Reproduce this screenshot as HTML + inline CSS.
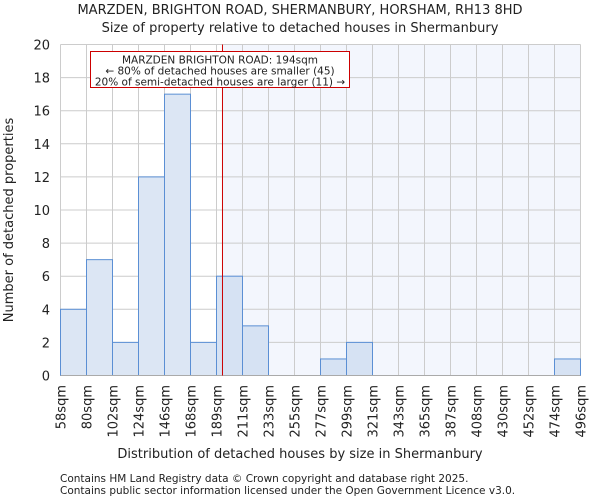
<!DOCTYPE html>
<html><head><meta charset="utf-8"><style>
body{margin:0;background:#fff;font-family:"DejaVu Sans","Liberation Sans",sans-serif}
svg text{font-family:"DejaVu Sans","Liberation Sans",sans-serif;fill:#222}
</style></head><body>
<svg id="c" width="600" height="500" xmlns="http://www.w3.org/2000/svg"></svg>
<script>
const binLabels=["58sqm","80sqm","102sqm","124sqm","146sqm","168sqm","189sqm","211sqm","233sqm","255sqm","277sqm","299sqm","321sqm","343sqm","365sqm","387sqm","408sqm","430sqm","452sqm","474sqm","496sqm"];
const counts=[4,7,2,12,17,2,6,3,0,0,1,2,0,0,0,0,0,0,0,1];
const yTicks=[0,2,4,6,8,10,12,14,16,18,20];
const markerIndex=6.23;
const svg=document.getElementById('c');
const NS="http://www.w3.org/2000/svg";
const L=60.5,R=580.5,T=44.5,B=375.5,yMax=20;
const nb=counts.length;
const x=i=>L+(R-L)*i/nb;
const y=v=>B-(B-T)*v/yMax;
function el(t,a,txt){const e=document.createElementNS(NS,t);for(const k in a)e.setAttribute(k,a[k]);if(txt!=null)e.textContent=txt;svg.appendChild(e);return e;}
let e;
e=el('rect',{x:x(markerIndex),y:T,width:R-x(markerIndex),height:B-T,fill:'#f3f6fd'});


for(const v of yTicks){e=el('line',{x1:L,x2:R,y1:y(v),y2:y(v),stroke:'#cccccc','stroke-width':1});

}
for(let i=0;i<=nb;i++){e=el('line',{x1:x(i),x2:x(i),y1:T,y2:B,stroke:'#cccccc','stroke-width':1});

}
counts.forEach((c,i)=>{if(c<=0)return;
e=el('rect',{x:x(i),y:y(c),width:x(i+1)-x(i),height:B-y(c),fill:i+1>markerIndex?'#d6e2f3':'#dce6f4',stroke:'#5b8fd4','stroke-width':1});

});
e=el('line',{x1:L,x2:R,y1:B,y2:B,stroke:'#aaaaaa','stroke-width':1});


e=el('line',{x1:x(markerIndex),x2:x(markerIndex),y1:T,y2:B,stroke:'#cc0000','stroke-width':1});


for(const v of yTicks){e=el('text',{x:50,y:y(v)+5,'text-anchor':'end','font-size':13},v);

}
binLabels.forEach((l,i)=>{e=el('text',{transform:`translate(${x(i)+5},385) rotate(-90)`,'text-anchor':'end','font-size':13},l);

});
e=el('rect',{x:90.5,y:51.5,width:259,height:36,fill:'#fff',stroke:'#cc0000','stroke-width':1});


const ann=["MARZDEN BRIGHTON ROAD: 194sqm","← 80% of detached houses are smaller (45)","20% of semi-detached houses are larger (11) →"];
ann.forEach((t,i)=>{e=el('text',{x:220,y:63.5+i*11,'text-anchor':'middle','font-size':10.5},t);

});
e=el('text',{x:300,y:14,'text-anchor':'middle','font-size':13},"MARZDEN, BRIGHTON ROAD, SHERMANBURY, HORSHAM, RH13 8HD");


e=el('text',{x:300,y:32,'text-anchor':'middle','font-size':13},"Size of property relative to detached houses in Shermanbury");


e=el('text',{x:300,y:458,'text-anchor':'middle','font-size':13},"Distribution of detached houses by size in Shermanbury");


e=el('text',{transform:'translate(13,220) rotate(-90)','text-anchor':'middle','font-size':13},"Number of detached properties");


e=el('text',{x:60,y:482,'font-size':10.5,fill:'#444'},"Contains HM Land Registry data © Crown copyright and database right 2025.");


e=el('text',{x:60,y:494,'font-size':10.5,fill:'#444'},"Contains public sector information licensed under the Open Government Licence v3.0.");


</script>
</body></html>
